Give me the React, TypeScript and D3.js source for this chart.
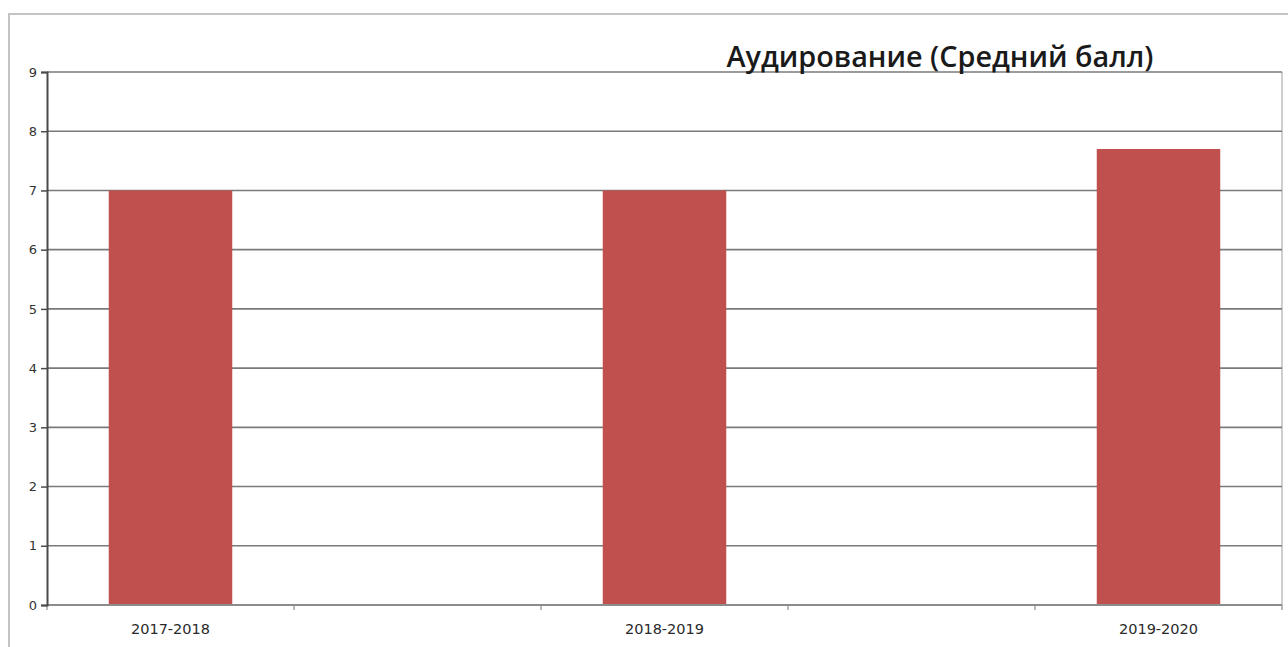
import { useEffect, useRef } from "react";
import * as d3 from "d3";

// Chart data
const categories = ["2017-2018", "", "2018-2019", "", "2019-2020"];
const values: (number | null)[] = [7, null, 7, null, 7.7];
const yTicks = [0, 1, 2, 3, 4, 5, 6, 7, 8, 9];
const title = "Аудирование (Средний балл)";

const W = 1288;
const H = 647;
const M = { left: 47, right: 1282, top: 72, bottom: 605 };

export default function App() {
  const svgRef = useRef<SVGSVGElement | null>(null);

  useEffect(() => {
    const svg = d3.select(svgRef.current);
    svg.selectAll("*").remove();

    // Scales
    const x = d3
      .scaleBand<number>()
      .domain(d3.range(categories.length))
      .range([M.left, M.right]);
    const y = d3.scaleLinear().domain([0, 9]).range([M.bottom, M.top]);

    // Outer frame
    svg
      .append("path")
      .attr("d", `M9,${H + 5} V14 H${W + 5}`)
      .attr("fill", "none")
      .attr("stroke", "#c4c4c4")
      .attr("stroke-width", 2);

    // Plot area right border
    svg
      .append("line")
      .attr("x1", M.right)
      .attr("x2", M.right)
      .attr("y1", M.top)
      .attr("y2", M.bottom)
      .attr("stroke", "#cfcfcf")
      .attr("stroke-width", 2);

    // Gridlines
    svg
      .append("g")
      .selectAll("line")
      .data(yTicks.filter((t) => t > 0))
      .join("line")
      .attr("x1", M.left)
      .attr("x2", M.right)
      .attr("y1", (d) => y(d))
      .attr("y2", (d) => y(d))
      .attr("stroke", "#7a7a7a")
      .attr("stroke-width", 1.6);

    // Bars
    svg
      .append("g")
      .selectAll("rect")
      .data(values.map((v, i) => ({ v, i })).filter((d) => d.v !== null))
      .join("rect")
      .attr("x", (d) => x(d.i)! + x.bandwidth() * 0.25)
      .attr("width", x.bandwidth() * 0.5)
      .attr("y", (d) => y(d.v as number))
      .attr("height", (d) => y(0) - y(d.v as number))
      .attr("fill", "#c0504d");

    // X axis
    const xAxis = svg.append("g");
    xAxis
      .append("line")
      .attr("x1", M.left)
      .attr("x2", M.right)
      .attr("y1", M.bottom)
      .attr("y2", M.bottom)
      .attr("stroke", "#8c8c8c")
      .attr("stroke-width", 2);
    xAxis
      .selectAll("line.tick")
      .data(d3.range(categories.length + 1))
      .join("line")
      .attr("class", "tick")
      .attr("x1", (i) => M.left + i * x.step())
      .attr("x2", (i) => M.left + i * x.step())
      .attr("y1", M.bottom)
      .attr("y2", M.bottom + 5)
      .attr("stroke", "#8c8c8c")
      .attr("stroke-width", 1.2);
    xAxis
      .selectAll("text")
      .data(categories.map((c, i) => ({ c, i })).filter((d) => d.c !== ""))
      .join("text")
      .attr("x", (d) => x(d.i)! + x.bandwidth() / 2)
      .attr("y", 634)
      .attr("text-anchor", "middle")
      .attr("font-family", "DejaVu Sans, sans-serif")
      .attr("font-size", 14.5)
      .attr("fill", "#2a2a2a")
      .text((d) => d.c);

    // Y axis
    const yAxis = svg
      .append("g")
      .attr("transform", `translate(${M.left},0)`)
      .call(d3.axisLeft(y).tickValues(yTicks).tickSize(6).tickPadding(4));
    yAxis.select(".domain").attr("stroke", "#4a4a4a").attr("stroke-width", 2);
    yAxis.selectAll(".tick line").attr("stroke", "#4a4a4a").attr("stroke-width", 1.5);
    yAxis
      .selectAll(".tick text")
      .attr("font-family", "DejaVu Sans, sans-serif")
      .attr("font-size", 13)
      .attr("fill", "#333");

    // Title
    svg
      .append("text")
      .attr("x", 940)
      .attr("y", 67)
      .attr("text-anchor", "middle")
      .attr("font-family", "Open Sans, sans-serif")
      .attr("font-weight", 600)
      .attr("font-size", 28.8)
      .attr("fill", "#1a1a1a")
      .text(title);
  }, []);

  return (
    <svg
      ref={svgRef}
      width={W}
      height={H}
      style={{ position: "absolute", left: 0, top: 0, background: "#fff" }}
    />
  );
}
